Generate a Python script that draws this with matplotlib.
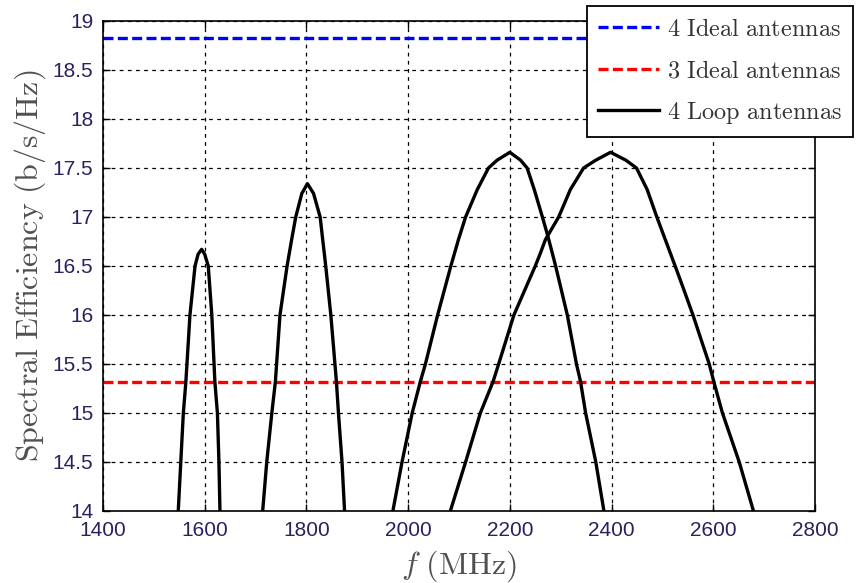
import matplotlib
matplotlib.use("Agg")
import matplotlib.pyplot as plt

# frequency (MHz) / spectral efficiency (b/s/Hz)
ideal_4 = 18.83
ideal_3 = 15.32

loop_1600_f = [1548, 1553, 1558, 1563, 1571, 1581, 1587, 1594, 1600, 1607, 1614, 1620, 1625, 1628, 1630]
loop_1600_se = [14.0, 14.5, 15.0, 15.32, 16.0, 16.5, 16.62, 16.67, 16.62, 16.5, 16.0, 15.32, 15.0, 14.5, 14.0]

loop_1800_f = [1714, 1722, 1732, 1739, 1748, 1762, 1771, 1779, 1791, 1802, 1814, 1827, 1832, 1838, 1848, 1859, 1863, 1870, 1875]
loop_1800_se = [14.0, 14.5, 15.0, 15.32, 16.0, 16.5, 16.77, 17.0, 17.24, 17.34, 17.24, 17.0, 16.77, 16.5, 16.0, 15.32, 15.0, 14.5, 14.0]

loop_2200_f = [1970, 1988, 2008, 2024, 2034, 2058, 2084, 2099, 2113, 2136, 2158, 2175, 2200, 2221, 2234, 2248,
               2264, 2275, 2290, 2313, 2331, 2339, 2349, 2369, 2385]
loop_2200_se = [14.0, 14.5, 15.0, 15.32, 15.5, 16.0, 16.5, 16.77, 17.0, 17.28, 17.5, 17.58, 17.66, 17.58, 17.5, 17.28,
                17.0, 16.8, 16.5, 16.0, 15.5, 15.32, 15.0, 14.5, 14.0]

loop_2400_f = [2083, 2113, 2142, 2167, 2178, 2208, 2250, 2260, 2270, 2296, 2319, 2345, 2369, 2398, 2428, 2449,
               2470, 2489, 2525, 2542, 2560, 2592, 2601, 2618, 2651, 2679]
loop_2400_se = [14.0, 14.5, 15.0, 15.32, 15.5, 16.0, 16.5, 16.63, 16.77, 17.0, 17.28, 17.5, 17.58, 17.66, 17.58, 17.5,
                17.28, 17.0, 16.5, 16.26, 16.0, 15.5, 15.32, 15.0, 14.5, 14.0]

x_ticks = [1400, 1600, 1800, 2000, 2200, 2400, 2600, 2800]
y_ticks = [14, 14.5, 15, 15.5, 16, 16.5, 17, 17.5, 18, 18.5, 19]
y_tick_labels = ["14", "14.5", "15", "15.5", "16", "16.5", "17", "17.5", "18", "18.5", "19"]

plt.rcParams["mathtext.fontset"] = "cm"

fig = plt.figure(figsize=(8.56, 5.83), dpi=100)
ax = fig.add_axes([0.1203, 0.1235, 0.8318, 0.8405])

dash = (0, (3, 1.3))
ax.axhline(ideal_4, color="#0000ff", lw=2.4, ls=dash, label=r"$\mathrm{4\ Ideal\ antennas}$")
ax.axhline(ideal_3, color="#ff0000", lw=2.4, ls=dash, label=r"$\mathrm{3\ Ideal\ antennas}$")
ax.plot(loop_1600_f, loop_1600_se, color="black", lw=2.4, label=r"$\mathrm{4\ Loop\ antennas}$")
for f, se in [(loop_1800_f, loop_1800_se), (loop_2200_f, loop_2200_se), (loop_2400_f, loop_2400_se)]:
    ax.plot(f, se, color="black", lw=2.4)

ax.set_xlim(1400, 2800)
ax.set_ylim(14, 19)
ax.set_xticks(x_ticks)
ax.set_yticks(y_ticks)
ax.set_yticklabels(y_tick_labels)

tick_color = "#2e1f5e"
ax.tick_params(direction="in", length=5, width=1, top=True, right=True,
               labelsize=15, labelcolor=tick_color, pad=7)
for lab in ax.get_xticklabels() + ax.get_yticklabels():
    lab.set_fontfamily("Liberation Sans")

ax.grid(True, color="black", lw=0.9, ls=(0, (3, 3.5)))
for s in ax.spines.values():
    s.set_linewidth(1.2)

ax.set_xlabel(r"$f\ \mathrm{(MHz)}$", fontsize=23, color="#505050", labelpad=6)
ax.set_ylabel(r"$\mathrm{Spectral\ Efficiency\ (b/s/Hz)}$", fontsize=23, color="#505050", labelpad=3)

leg = ax.legend(loc="upper right", bbox_to_anchor=(0.997, 0.99), bbox_transform=fig.transFigure,
                fontsize=17.5, fancybox=False, framealpha=1, edgecolor="black",
                handlelength=2.5, handletextpad=0.35, labelspacing=0.72, borderpad=0.45,
                borderaxespad=0)
leg.get_frame().set_linewidth(1.3)
for t in leg.get_texts():
    t.set_color("#333333")

fig.savefig("out.png", dpi=100)
